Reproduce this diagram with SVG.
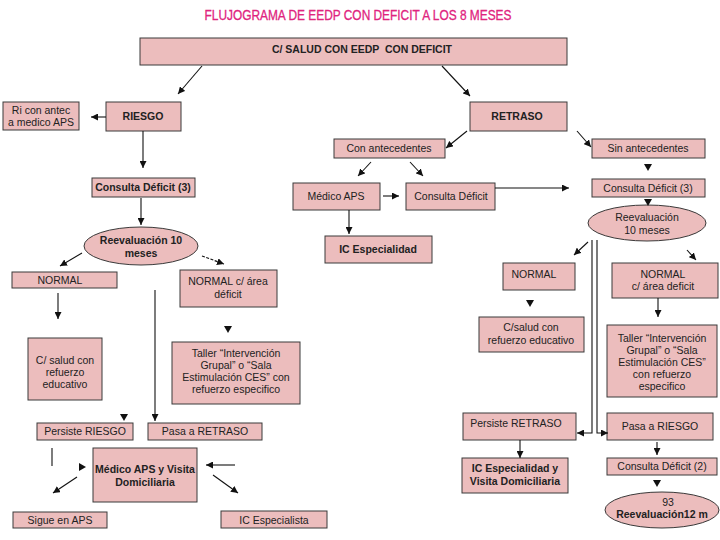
<svg xmlns="http://www.w3.org/2000/svg" width="720" height="540" viewBox="0 0 720 540">
<defs>
<style>
.b{fill:#ecbdbd;stroke:#3a3a3a;stroke-width:1}
.t{font-family:"Liberation Sans",Arial,sans-serif;font-size:10.5px;fill:#222;text-anchor:middle}
.bd{font-weight:bold}
.c{stroke:#111;stroke-width:1.1;fill:none}
.h{fill:#111}
</style>
<marker id="a" viewBox="0 0 8 8" refX="8" refY="4" markerWidth="7" markerHeight="7" markerUnits="userSpaceOnUse" orient="auto"><path d="M0,0 L8,4 L0,8 z" fill="#111"/></marker>
</defs>
<rect width="720" height="540" fill="#fff"/>
<text x="358" y="20" font-family="Liberation Sans,Arial,sans-serif" font-size="14" fill="#e0247e" stroke="#e0247e" stroke-width="0.3" text-anchor="middle" textLength="307" lengthAdjust="spacingAndGlyphs">FLUJOGRAMA DE EEDP CON DEFICIT A LOS 8 MESES</text>

<g id="top"><rect class="b" x="140" y="38" width="427" height="27"/><text class="t bd" x="362" y="53" style="white-space:pre">C/ SALUD CON EEDP  CON DEFICIT</text></g>
<g id="ri"><rect class="b" x="3" y="102" width="76" height="28"/><text class="t" x="41" y="114">Ri con antec</text><text class="t" x="41" y="126">a medico APS</text></g>
<g id="riesgo"><rect class="b" x="106" y="102" width="75" height="29"/><text class="t bd" x="143" y="120">RIESGO</text></g>
<g id="retraso"><rect class="b" x="470" y="102" width="97" height="29"/><text class="t bd" x="517" y="120">RETRASO</text></g>
<g id="conant"><rect class="b" x="334" y="139" width="111" height="19"/><text class="t" x="389" y="152">Con antecedentes</text></g>
<g id="sinant"><rect class="b" x="592" y="139" width="113" height="19"/><text class="t" x="648" y="152">Sin antecedentes</text></g>
<g id="cdl"><rect class="b" x="92" y="178" width="103" height="19"/><text class="t bd" x="143" y="191">Consulta Déficit (3)</text></g>
<g id="medaps"><rect class="b" x="293" y="183" width="87" height="27"/><text class="t" x="336" y="200">Médico APS</text></g>
<g id="cdm"><rect class="b" x="406" y="183" width="89" height="27"/><text class="t" x="451" y="200">Consulta Déficit</text></g>
<g id="cdr"><rect class="b" x="592" y="179" width="113" height="18"/><text class="t" x="648" y="192">Consulta Déficit (3)</text></g>
<g id="icesp"><rect class="b" x="325" y="236" width="107" height="27"/><text class="t bd" x="378" y="253">IC Especialidad</text></g>
<g id="reevl"><ellipse class="b" cx="141" cy="246" rx="57" ry="19"/><text class="t bd" x="141" y="244">Reevaluación 10</text><text class="t bd" x="141" y="257">meses</text></g>
<g id="reevr"><ellipse class="b" cx="647" cy="223" rx="59" ry="18"/><text class="t" x="647" y="221">Reevaluación</text><text class="t" x="647" y="234">10 meses</text></g>
<g id="norml"><rect class="b" x="12" y="272" width="105" height="16"/><text class="t" x="60" y="284">NORMAL</text></g>
<g id="normcl"><rect class="b" x="180" y="270" width="97" height="37"/><text class="t" x="228" y="285">NORMAL c/ área</text><text class="t" x="228" y="298">déficit</text></g>
<g id="normr"><rect class="b" x="503" y="263" width="72" height="27"/><text class="t" x="534" y="278">NORMAL</text></g>
<g id="normcr"><rect class="b" x="612" y="263" width="106" height="35"/><text class="t" x="663" y="278">NORMAL</text><text class="t" x="663" y="290">c/ área deficit</text></g>
<g id="csl"><rect class="b" x="28" y="338" width="74" height="62"/><text class="t" x="65" y="364">C/ salud con</text><text class="t" x="65" y="376">refuerzo</text><text class="t" x="65" y="388">educativo</text></g>
<g id="tall"><rect class="b" x="172" y="342" width="128" height="62"/><text class="t" x="236" y="357">Taller “Intervención</text><text class="t" x="236" y="369">Grupal” o “Sala</text><text class="t" x="236" y="381">Estimulación CES” con</text><text class="t" x="236" y="393">refuerzo especifico</text></g>
<g id="csr"><rect class="b" x="479" y="317" width="105" height="35"/><text class="t" x="531" y="331">C/salud con</text><text class="t" x="531" y="344">refuerzo educativo</text></g>
<g id="talr"><rect class="b" x="607" y="325" width="110" height="72"/><text class="t" x="662" y="342">Taller “Intervención</text><text class="t" x="662" y="354">Grupal” o “Sala</text><text class="t" x="662" y="366">Estimulación CES”</text><text class="t" x="662" y="378">con refuerzo</text><text class="t" x="662" y="390">especifico</text></g>
<g id="pril"><rect class="b" x="37" y="423" width="96" height="17"/><text class="t" x="85" y="435">Persiste RIESGO</text></g>
<g id="pare"><rect class="b" x="148" y="423" width="114" height="17"/><text class="t" x="205" y="435">Pasa a RETRASO</text></g>
<g id="prr"><rect class="b" x="463" y="413" width="113" height="27"/><text class="t" x="516" y="427">Persiste RETRASO</text></g>
<g id="parr"><rect class="b" x="607" y="413" width="106" height="27"/><text class="t" x="660" y="430">Pasa a RIESGO</text></g>
<g id="mapsv"><rect class="b" x="93" y="448" width="104" height="54"/><text class="t bd" x="145" y="473">Médico APS y Visita</text><text class="t bd" x="145" y="486">Domiciliaria</text></g>
<g id="icev"><rect class="b" x="462" y="458" width="106" height="35"/><text class="t bd" x="515" y="472">IC Especialidad y</text><text class="t bd" x="515" y="485">Visita Domiciliaria</text></g>
<g id="cd2"><rect class="b" x="607" y="458" width="110" height="17"/><text class="t" x="662" y="470">Consulta Déficit (2)</text></g>
<g id="ree12"><ellipse class="b" cx="662" cy="510" rx="57" ry="18"/><text class="t bd" x="662" y="518">Reevaluación12 m</text></g>
<g id="sigue"><rect class="b" x="13" y="512" width="94" height="16"/><text class="t" x="60" y="524">Sigue en APS</text></g>
<g id="icespta"><rect class="b" x="221" y="511" width="106" height="17"/><text class="t" x="274" y="524">IC Especialista</text></g>
<text class="t" x="668" y="506" font-size="11">93</text>

<g id="connectors">
<line class="c" x1="202" y1="66" x2="178" y2="94" marker-end="url(#a)"/>
<line class="c" x1="442" y1="66" x2="470" y2="96" marker-end="url(#a)"/>
<line class="c" x1="106" y1="117" x2="91" y2="117" marker-end="url(#a)"/>
<line class="c" x1="143" y1="131" x2="143" y2="168" marker-end="url(#a)"/>
<line class="c" x1="141" y1="198" x2="141" y2="225" marker-end="url(#a)"/>
<line class="c" x1="82" y1="253" x2="60" y2="266" marker-end="url(#a)"/>
<line class="c" x1="202" y1="256" x2="224" y2="264" stroke-dasharray="3,1.5" marker-end="url(#a)"/>
<line class="c" x1="58" y1="293" x2="58" y2="319" marker-end="url(#a)"/>
<line class="c" x1="155" y1="290" x2="155" y2="421" marker-end="url(#a)"/>
<polygon class="h" points="224,326 232,326 228,333"/>
<polygon class="h" points="120,414 128,414 124,421"/>
<line class="c" x1="52" y1="448" x2="52" y2="466"/>
<polygon class="h" points="79,463 86,467 79,471"/>
<line class="c" x1="235" y1="465" x2="206" y2="465" marker-end="url(#a)"/>
<line class="c" x1="77" y1="477" x2="53" y2="493" marker-end="url(#a)"/>
<line class="c" x1="213" y1="475" x2="238" y2="493" marker-end="url(#a)"/>
<line class="c" x1="467" y1="131" x2="446" y2="148" marker-end="url(#a)"/>
<line class="c" x1="577" y1="131" x2="591" y2="147" marker-end="url(#a)"/>
<line class="c" x1="371" y1="162" x2="358" y2="176" marker-end="url(#a)"/>
<line class="c" x1="410" y1="162" x2="423" y2="176" marker-end="url(#a)"/>
<line class="c" x1="383" y1="196" x2="399" y2="196" marker-end="url(#a)"/>
<line class="c" x1="349" y1="210" x2="349" y2="234" marker-end="url(#a)"/>
<line class="c" x1="495" y1="188" x2="569" y2="188" marker-end="url(#a)"/>
<polygon class="h" points="644,164 652,164 648,171"/>
<polygon class="h" points="644,199 652,199 648,206"/>
<line class="c" x1="588" y1="242" x2="574" y2="255" marker-end="url(#a)"/>
<line class="c" x1="687" y1="250" x2="696" y2="260" marker-end="url(#a)"/>
<polygon class="h" points="526,300 534,300 530,307"/>
<line class="c" x1="658" y1="298" x2="658" y2="317" marker-end="url(#a)"/>
<path class="c" d="M592,240 V433 H577" marker-end="url(#a)"/>
<path class="c" d="M597,240 V433 H608" marker-end="url(#a)"/>
<line class="c" x1="520" y1="440" x2="520" y2="458" marker-end="url(#a)"/>
<line class="c" x1="657" y1="442" x2="657" y2="455" marker-end="url(#a)"/>
<polygon class="h" points="653,480 661,480 657,487"/>
</g>
</svg>
